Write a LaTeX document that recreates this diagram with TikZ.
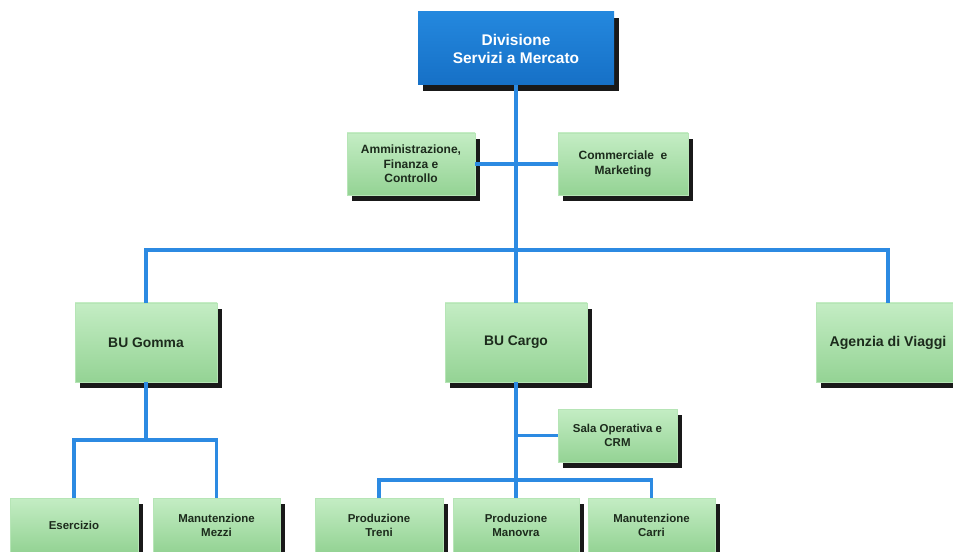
\documentclass[tikz,border=0pt]{standalone}
\usepackage{fontspec}
\setmainfont{Liberation Sans}
\usetikzlibrary{shadows}
\definecolor{linkblue}{HTML}{2C8AE2}
\definecolor{topblue}{HTML}{2488DE}
\definecolor{botblue}{HTML}{1670C6}
\definecolor{gtop}{HTML}{C4EDC4}
\definecolor{gbot}{HTML}{94D394}
\definecolor{gtext}{HTML}{1C2B1C}
\tikzset{
  base/.style={rectangle, align=center, font=\bfseries, inner sep=2pt,
    drop shadow={shadow xshift=3.8pt, shadow yshift=-4.5pt, fill=black!90, opacity=1}},
  sz/.style n args={2}{minimum width=#1*0.75pt, minimum height=#2*0.75pt},
  bluebox/.style={base, top color=topblue, bottom color=botblue, text=white},
  greenbox/.style={base, top color=gtop, bottom color=gbot, text=gtext, draw=gtop!70!gbot, line width=0.4pt},
  link/.style={draw=linkblue, line width=2.5pt}
}
\begin{document}
\begin{tikzpicture}[x=0.75pt, y=-0.75pt]
\useasboundingbox (0,0) rectangle (953,552);
\clip (0,0) rectangle (953,552);
\fill[white] (0,0) rectangle (953,552);
\coordinate (bar) at (516,250);
\coordinate (gbar) at (146,440);
\coordinate (cbar) at (516,480);
\node[bluebox, sz={196}{73}, font=\bfseries\fontsize{11.6}{13.5}\selectfont] (top) at (516,48.5) {Divisione\\Servizi a Mercato};
\node[greenbox, sz={128}{62}, font=\bfseries\fontsize{9}{11}\selectfont] (amm) at (411,164) {Amministrazione,\\Finanza e\\Controllo};
\node[greenbox, sz={130}{62}, font=\bfseries\fontsize{9}{11}\selectfont] (comm) at (623,164) {Commerciale \ e\\Marketing};
\node[greenbox, sz={142}{79}, font=\bfseries\fontsize{10.4}{12}\selectfont] (gomma) at (146,342.5) {BU Gomma};
\node[greenbox, sz={142}{79}, font=\bfseries\fontsize{10.4}{12}\selectfont] (cargo) at (516,342.5) {BU Cargo};
\node[greenbox, sz={144}{79}, font=\bfseries\fontsize{10.6}{12}\selectfont] (agenzia) at (888,342.5) {Agenzia di Viaggi};
\node[greenbox, sz={119}{53}, font=\bfseries\fontsize{8.6}{10.5}\selectfont] (sala) at (617.5,435.5) {Sala Operativa e\\CRM};
\node[greenbox, sz={128}{54}, font=\bfseries\fontsize{8.6}{10.5}\selectfont] (eserc) at (74,525) {Esercizio};
\node[greenbox, sz={127}{54}, font=\bfseries\fontsize{8.6}{10.5}\selectfont] (mezzi) at (216.5,525) {Manutenzione\\Mezzi};
\node[greenbox, sz={128}{54}, font=\bfseries\fontsize{8.6}{10.5}\selectfont] (treni) at (379,525) {Produzione\\Treni};
\node[greenbox, sz={126}{54}, font=\bfseries\fontsize{8.6}{10.5}\selectfont] (manovra) at (516,525) {Produzione\\Manovra};
\node[greenbox, sz={127}{54}, font=\bfseries\fontsize{8.6}{10.5}\selectfont] (carri) at (651.5,525) {Manutenzione\\Carri};
% connectors
\draw[link] (top.south) -- (cargo.north);
\draw[link] (amm.east) -- (comm.west);
\draw[link] (gomma.north) -- (gomma.north |- bar) -| (agenzia.north);
\draw[link] (gomma.south) -- (gomma.south |- gbar);
\draw[link] (eserc.north) -- (eserc.north |- gbar) -| (mezzi.north);
\draw[link] (cargo.south) -- (manovra.north);
\draw[link] (sala.west) -- (sala.west -| cargo.south);
\draw[link] (treni.north) -- (treni.north |- cbar) -| (carri.north);
\end{tikzpicture}
\end{document}
